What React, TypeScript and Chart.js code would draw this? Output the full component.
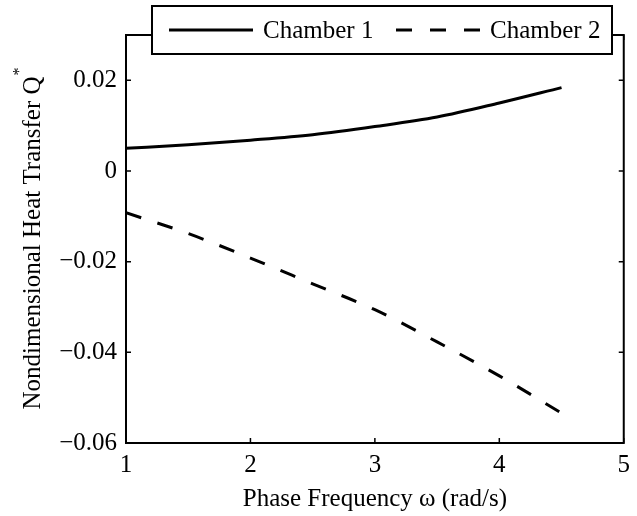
import { useEffect, useRef } from "react";
import { Chart, registerables } from "chart.js";
Chart.register(...registerables);

const omega = [1, 1.5, 2, 2.5, 3, 3.5, 4, 4.5];
const chamber1 = [0.005, 0.0058, 0.0068, 0.008, 0.0098, 0.0119, 0.015, 0.0184];
const chamber2 = [-0.0092, -0.0138, -0.0192, -0.0249, -0.0306, -0.0377, -0.0452, -0.0534];
const seriesLabels = ["Chamber 1", "Chamber 2"];
const xTicks = [1, 2, 3, 4, 5];
const yTicks = [-0.06, -0.04, -0.02, 0, 0.02];
const xTitle = "Phase Frequency \u03c9 (rad/s)";
const yTitle = "Nondimensional Heat Transfer Q";
const yTitleSup = "*";

const FONT = '"Liberation Serif", "Times New Roman", serif';

function fmtY(v: number) {
  if (Math.abs(v) < 1e-12) return "0";
  const s = Math.abs(v).toFixed(2);
  return v < 0 ? "\u2212" + s : s;
}

const framePlugin = {
  id: "matlabFrame",
  afterDraw(chart: any) {
    const { ctx, chartArea } = chart;
    const { left, right, top, bottom } = chartArea;
    const xs = chart.scales.x;
    const ys = chart.scales.y;
    ctx.save();
    ctx.strokeStyle = "#000";
    ctx.lineWidth = 2;
    ctx.strokeRect(left, top, right - left, bottom - top);
    const tl = 5;
    ctx.lineWidth = 1.5;
    ctx.beginPath();
    for (const t of xTicks) {
      const px = xs.getPixelForValue(t);
      ctx.moveTo(px, bottom);
      ctx.lineTo(px, bottom - tl);
      ctx.moveTo(px, top);
      ctx.lineTo(px, top + tl);
    }
    for (const t of yTicks) {
      const py = ys.getPixelForValue(t);
      ctx.moveTo(left, py);
      ctx.lineTo(left + tl, py);
      ctx.moveTo(right, py);
      ctx.lineTo(right - tl, py);
    }
    ctx.stroke();

    // x title
    ctx.fillStyle = "#000";
    ctx.font = `25px ${FONT}`;
    ctx.textAlign = "center";
    ctx.textBaseline = "alphabetic";
    ctx.fillText(xTitle, (left + right) / 2, 506);

    // y title with superscript
    ctx.font = `25px ${FONT}`;
    const mainW = ctx.measureText(yTitle).width;
    ctx.font = `16px ${FONT}`;
    const supW = ctx.measureText(yTitleSup).width;
    const cy = (top + bottom) / 2;
    ctx.save();
    ctx.translate(40, cy + (mainW + supW) / 2);
    ctx.rotate(-Math.PI / 2);
    ctx.textAlign = "left";
    ctx.font = `25px ${FONT}`;
    ctx.fillText(yTitle, 0, 0);
    ctx.font = `16px ${FONT}`;
    ctx.fillText(yTitleSup, mainW + 1, -16);
    ctx.restore();

    // legend
    const bx = 152, by = 6, bw = 460, bh = 48;
    ctx.fillStyle = "#fff";
    ctx.fillRect(bx, by, bw, bh);
    ctx.strokeStyle = "#000";
    ctx.lineWidth = 2;
    ctx.strokeRect(bx, by, bw, bh);
    const ly = by + 24;
    const items = [
      { x0: bx + 17, dash: [] as number[] },
      { x0: bx + 244, dash: [16, 18] },
    ];
    chart.data.datasets.forEach((ds: any, i: number) => {
      const it = items[i];
      ctx.save();
      ctx.lineWidth = 3;
      ctx.setLineDash(it.dash);
      ctx.beginPath();
      ctx.moveTo(it.x0, ly);
      ctx.lineTo(it.x0 + 84, ly);
      ctx.stroke();
      ctx.restore();
      ctx.fillStyle = "#000";
      ctx.font = `25px ${FONT}`;
      ctx.textAlign = "left";
      ctx.textBaseline = "middle";
      ctx.fillText(ds.label, it.x0 + 94, ly + 1);
    });
    ctx.restore();
  },
};

export default function App() {
  const ref = useRef<HTMLCanvasElement | null>(null);
  useEffect(() => {
    if (!ref.current) return;
    const chart = new Chart(ref.current, {
      type: "line",
      data: {
        datasets: [
          {
            label: seriesLabels[0],
            data: omega.map((x, i) => ({ x, y: chamber1[i] })),
            borderColor: "#000",
            borderWidth: 3,
            pointRadius: 0,
            cubicInterpolationMode: "monotone",
            fill: false,
          },
          {
            label: seriesLabels[1],
            data: omega.map((x, i) => ({ x, y: chamber2[i] })),
            borderColor: "#000",
            borderWidth: 3,
            borderDash: [16, 17],
            pointRadius: 0,
            cubicInterpolationMode: "monotone",
            fill: false,
          },
        ],
      },
      options: {
        responsive: false,
        animation: false,
        layout: { padding: { left: 0, right: 7, top: 35, bottom: 0 } },
        plugins: { legend: { display: false }, tooltip: { enabled: false } },
        scales: {
          x: {
            type: "linear",
            min: 1,
            max: 5,
            afterBuildTicks: (s: any) => {
              s.ticks = xTicks.map((v) => ({ value: v }));
            },
            afterFit: (s: any) => {
              s.height = 73;
            },
            grid: { display: false, drawTicks: false },
            border: { display: false },
            ticks: {
              color: "#000",
              padding: 7,
              font: { family: FONT, size: 25 },
              callback: (v: any) => String(v),
              maxRotation: 0,
            },
          },
          y: {
            type: "linear",
            min: -0.06,
            max: 0.03,
            afterBuildTicks: (s: any) => {
              s.ticks = yTicks.map((v) => ({ value: v }));
            },
            afterFit: (s: any) => {
              s.width = 126;
            },
            grid: { display: false, drawTicks: false },
            border: { display: false },
            ticks: {
              color: "#000",
              padding: 9,
              font: { family: FONT, size: 25 },
              callback: (v: any) => fmtY(Number(v)),
            },
          },
        },
      },
      plugins: [framePlugin],
    } as any);
    return () => chart.destroy();
  }, []);
  return (
    <div style={{ position: "absolute", left: 0, top: 0, width: 637, height: 516, background: "#fff" }}>
      <canvas ref={ref} width={637} height={516} style={{ display: "block" }} />
    </div>
  );
}
